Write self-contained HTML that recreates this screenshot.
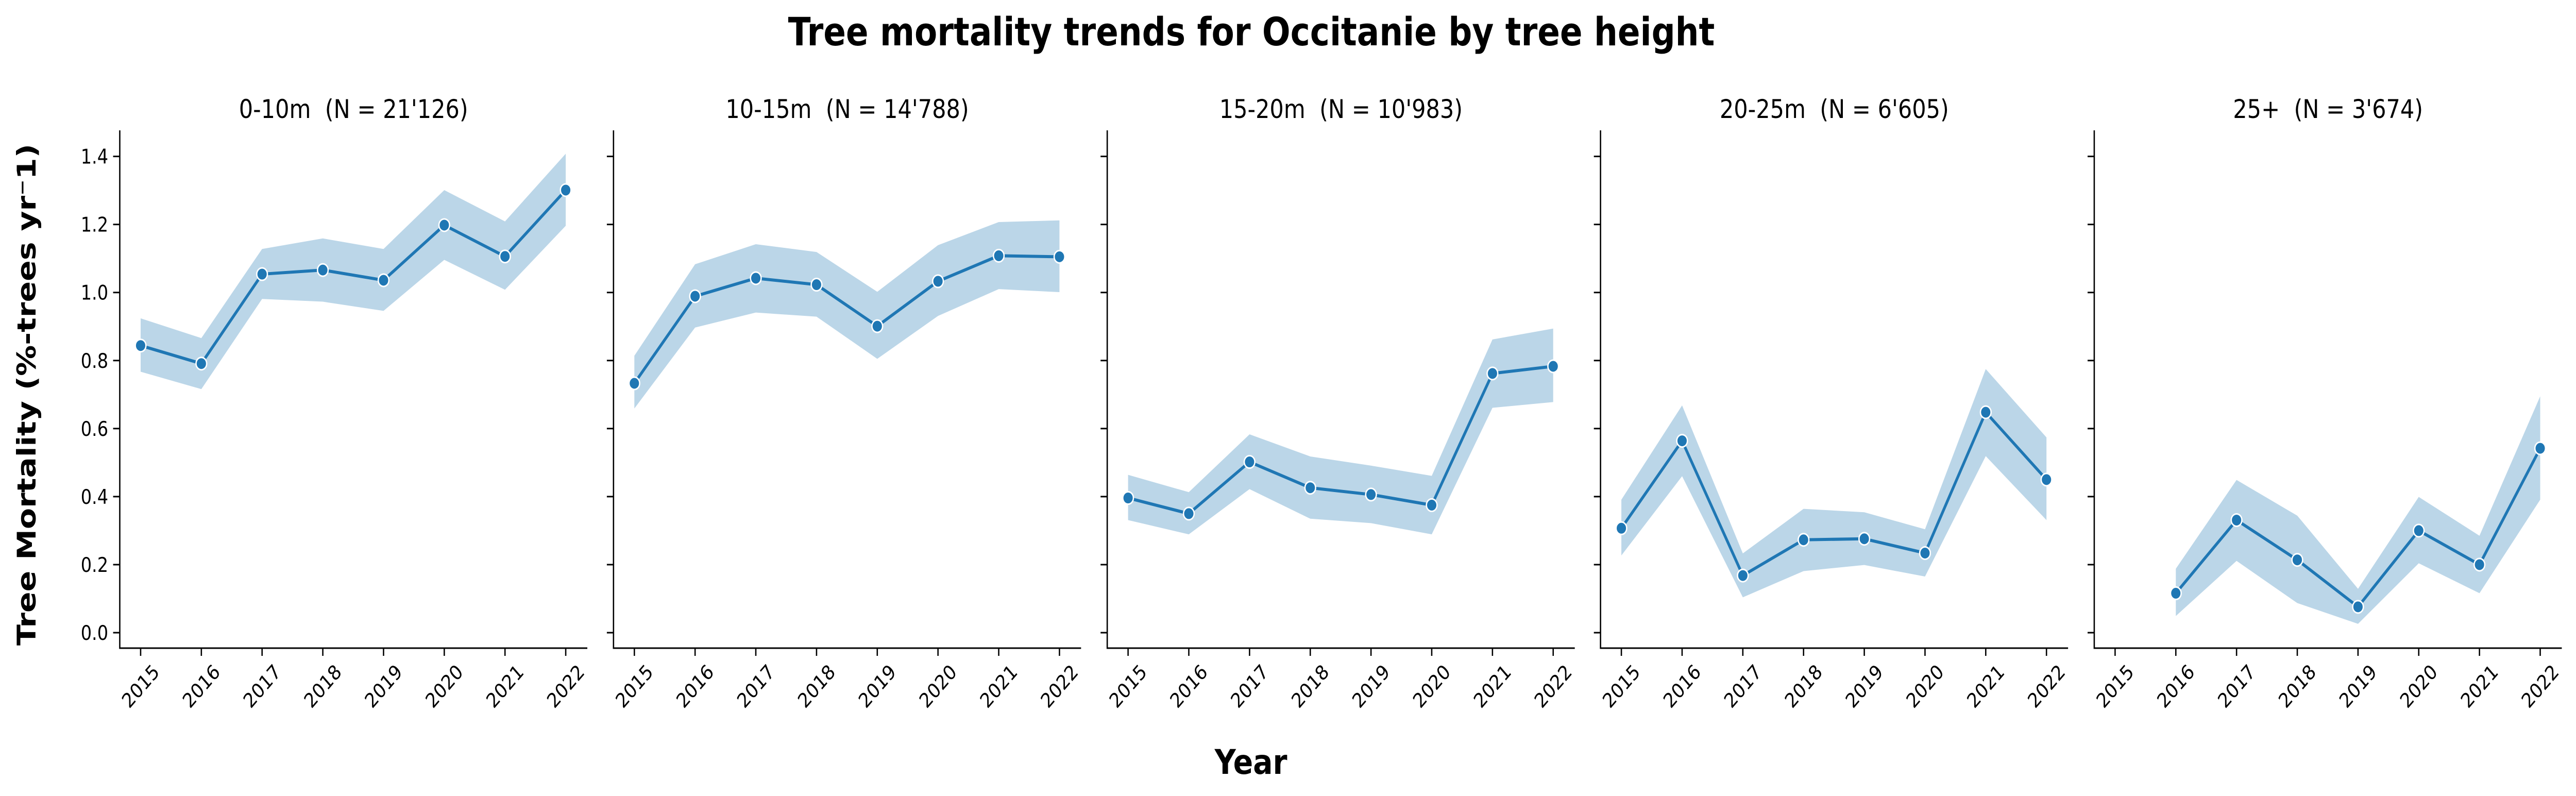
<!DOCTYPE html>
<html><head><meta charset="utf-8"><style>
html,body{margin:0;padding:0;background:#fff;width:100%;height:100%;overflow:hidden;}
svg{display:block;width:100vw;height:100vh;font-family:"DejaVu Sans","Liberation Sans",sans-serif;}
</style></head><body>
<svg id="fig" viewBox="0 0 5807 1545" preserveAspectRatio="none" xmlns="http://www.w3.org/2000/svg">
<rect width="5807" height="1545" fill="#fff"/>
<text x="2821" y="88" text-anchor="middle" font-size="76" font-weight="bold" textLength="2089" lengthAdjust="spacingAndGlyphs">Tree mortality trends for Occitanie by tree height</text>
<text transform="translate(80,766) rotate(-90)" text-anchor="middle" font-size="58" font-weight="bold" textLength="974" lengthAdjust="spacingAndGlyphs">Tree Mortality (%-trees yr⁻1)</text>
<text x="2820" y="1502" text-anchor="middle" font-size="66" font-weight="bold">Year</text>
<g id="panels"></g>
</svg>
<script>
const years = [2015, 2016, 2017, 2018, 2019, 2020, 2021, 2022];
const yTicks = [0.0, 0.2, 0.4, 0.6, 0.8, 1.0, 1.2, 1.4];
const yTickLabels = ["0.0", "0.2", "0.4", "0.6", "0.8", "1.0", "1.2", "1.4"];
const panelTitles = ["0-10m  (N = 21'126)", "10-15m  (N = 14'788)", "15-20m  (N = 10'983)", "20-25m  (N = 6'605)", "25+  (N = 3'674)"];
const mean0 = [0.844, 0.791, 1.054, 1.066, 1.036, 1.198, 1.106, 1.301];
const upper0 = [0.924, 0.866, 1.128, 1.159, 1.128, 1.301, 1.209, 1.408];
const lower0 = [0.767, 0.716, 0.981, 0.973, 0.946, 1.096, 1.008, 1.196];
const mean1 = [0.733, 0.989, 1.042, 1.023, 0.901, 1.033, 1.108, 1.105];
const upper1 = [0.814, 1.083, 1.142, 1.119, 1.002, 1.139, 1.207, 1.212];
const lower1 = [0.659, 0.897, 0.941, 0.929, 0.805, 0.931, 1.010, 1.001];
const mean2 = [0.396, 0.350, 0.502, 0.426, 0.406, 0.375, 0.762, 0.783];
const upper2 = [0.464, 0.413, 0.583, 0.518, 0.491, 0.461, 0.862, 0.894];
const lower2 = [0.331, 0.289, 0.422, 0.335, 0.322, 0.289, 0.661, 0.678];
const mean3 = [0.307, 0.564, 0.168, 0.273, 0.276, 0.234, 0.648, 0.450];
const upper3 = [0.391, 0.668, 0.233, 0.364, 0.354, 0.304, 0.775, 0.574];
const lower3 = [0.227, 0.460, 0.104, 0.181, 0.199, 0.165, 0.519, 0.331];
const mean4 = [null, 0.116, 0.331, 0.214, 0.076, 0.300, 0.200, 0.542];
const upper4 = [null, 0.188, 0.449, 0.344, 0.129, 0.399, 0.285, 0.695];
const lower4 = [null, 0.049, 0.211, 0.087, 0.026, 0.204, 0.116, 0.391];

const means = [mean0, mean1, mean2, mean3, mean4];
const uppers = [upper0, upper1, upper2, upper3, upper4];
const lowers = [lower0, lower1, lower2, lower3, lower4];

const NS = "http://www.w3.org/2000/svg";
const root = document.getElementById("panels");
const panelLeft = [270, 1383, 2496, 3608, 4721];
const panelW = 1054, axTop = 253, axBottom = 1258;
function yScale(v) { return 1228 - v * (1228 - 303.6) / 1.4; }
function xScale(L, i) { return L + 47 + i * 136.9; }
function mk(tag, attrs, parent) {
  const e = document.createElementNS(NS, tag);
  for (const k in attrs) e.setAttribute(k, attrs[k]);
  parent.appendChild(e);
  return e;
}

for (let p = 0; p < 5; p++) {
  const L = panelLeft[p];
  const g = mk("g", {}, root);
  
  

  const t = mk("text", {x: L + panelW / 2, y: 229, "text-anchor": "middle", "font-size": 50, "xml:space": "preserve"}, g);
  t.setAttributeNS("http://www.w3.org/XML/1998/namespace", "xml:space", "preserve");
  t.style.whiteSpace = "pre";
  t.textContent = panelTitles[p];
  
  

  const m = means[p], u = uppers[p], lo = lowers[p];
  const idx = [];
  for (let i = 0; i < years.length; i++) if (m[i] !== null) idx.push(i);

  let d = "";
  idx.forEach((i, k) => { d += (k ? "L" : "M") + xScale(L, i) + "," + yScale(u[i]); });
  for (let k = idx.length - 1; k >= 0; k--) { const i = idx[k]; d += "L" + xScale(L, i) + "," + yScale(lo[i]); }
  d += "Z";
  const band = mk("path", {d: d, fill: "#1f77b4", "fill-opacity": 0.3, stroke: "none"}, g);
  
  

  const pts = idx.map(i => xScale(L, i) + "," + yScale(m[i])).join(" ");
  const line = mk("polyline", {points: pts, fill: "none", stroke: "#1f77b4", "stroke-width": 6, "stroke-linejoin": "round"}, g);
  
  

  idx.forEach(i => {
    const c = mk("circle", {cx: xScale(L, i), cy: yScale(m[i]), r: 12, fill: "#1f77b4", stroke: "#fff", "stroke-width": 3}, g);
    
    
  });

  const ax = mk("path", {d: "M" + L + "," + axTop + "V" + axBottom + "H" + (L + panelW), fill: "none", stroke: "#000", "stroke-width": 3}, g);
  
  

  yTicks.forEach((v, k) => {
    const y = yScale(v);
    const tk = mk("line", {x1: L - 15, x2: L, y1: y, y2: y, stroke: "#000", "stroke-width": 3}, g);
    
    
    if (p === 0) {
      const tl = mk("text", {x: L - 26, y: y + 14, "text-anchor": "end", "font-size": 39}, g);
      tl.textContent = yTickLabels[k];
      
      
    }
  });

  years.forEach((yr, i) => {
    const x = xScale(L, i);
    const tk = mk("line", {x1: x, x2: x, y1: axBottom, y2: axBottom + 15, stroke: "#000", "stroke-width": 3}, g);
    
    
    const tl = mk("text", {x: x, y: 1332, "text-anchor": "middle", "dominant-baseline": "central", "font-size": 39, transform: "rotate(-45 " + x + " 1332)"}, g);
    tl.textContent = String(yr);
    
    
  });
}
</script>
</body></html>
